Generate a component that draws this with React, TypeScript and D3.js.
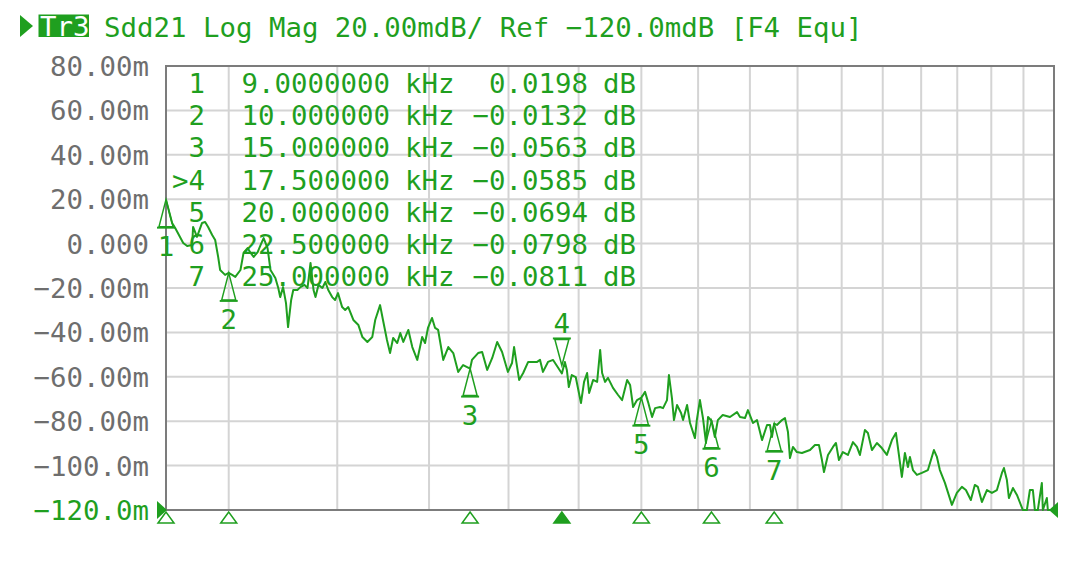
import * as d3 from "d3";

// Trazo Sdd21 (kHz, mdB)
const traceFreqKHz = [
  9.0, 9.093, 9.14, 9.264, 9.326, 9.404, 9.419, 9.481, 9.562, 9.611, 9.66, 9.726, 9.775, 9.824, 9.857, 9.939,
  10.0, 10.058, 10.111, 10.199, 10.252, 10.322, 10.375, 10.428, 10.498, 10.551, 10.604, 10.674, 10.727, 10.815,
  10.868, 10.903, 10.956, 11.01, 11.048, 11.106, 11.145, 11.222, 11.28, 11.357, 11.415, 11.473, 11.531, 11.569,
  11.627, 11.704, 11.762, 11.82, 11.898, 11.956, 12.015, 12.099, 12.161, 12.224, 12.329, 12.434, 12.518, 12.623,
  12.727, 12.79, 12.895, 12.958, 13.045, 13.113, 13.181, 13.272, 13.34, 13.408, 13.522, 13.612, 13.726, 13.839,
  13.907, 13.975, 14.071, 14.143, 14.216, 14.338, 14.46, 14.582, 14.703, 14.825, 15.0, 15.047, 15.203, 15.307,
  15.437, 15.568, 15.698, 15.828, 15.984, 16.094, 16.15, 16.233, 16.288, 16.399, 16.537, 16.787, 16.87, 16.953,
  17.097, 17.244, 17.5, 17.588, 17.647, 17.706, 17.794, 17.912, 18.071, 18.165, 18.258, 18.32, 18.444, 18.568,
  18.662, 18.724, 18.817, 18.91, 19.069, 19.233, 19.364, 19.528, 19.626, 19.725, 19.856, 20.0, 20.124, 20.227,
  20.364, 20.467, 20.639, 20.742, 20.88, 20.948, 21.054, 21.126, 21.235, 21.379, 21.451, 21.596, 21.704, 21.884,
  21.953, 22.068, 22.181, 22.294, 22.37, 22.5, 22.628, 22.741, 22.93, 23.209, 23.486, 23.605, 23.802, 23.921,
  24.123, 24.288, 24.494, 24.7, 24.823, 24.905, 25.0, 25.115, 25.329, 25.457, 25.585, 25.671, 25.799, 25.97,
  26.192, 26.549, 26.772, 26.951, 27.088, 27.18, 27.364, 27.595, 27.733, 27.871, 28.057, 28.297, 28.536, 28.727,
  28.871, 29.114, 29.262, 29.46, 29.708, 29.955, 30.21, 30.467, 30.672, 30.826, 30.979, 31.138, 31.296, 31.402,
  31.561, 31.773, 32.038, 32.366, 32.694, 32.858, 33.022, 33.303, 33.696, 33.977, 34.266, 34.497, 34.786, 35.018,
  35.198, 35.437, 35.737, 36.037, 36.343, 36.65, 36.773, 36.957, 37.082, 37.333, 37.585, 37.962, 38.219, 38.413,
  38.606, 38.735, 38.929, 39.192, 39.258, 39.523, 39.589, 39.788, 40.0,
];
const traceMdB = [
  19.8, 9.3, 7.0, 0.3, -1.1, -0.6, 7.5, 3.0, 9.3, 9.7, 7.5, 3.9, 1.6, -6.0, -11.9, -14.1,
  -13.2, -14.1, -15.0, -11.9, -4.2, -2.0, -4.2, -6.0, -3.8, -0.6, 2.5, -2.0, -11.9, -15.5,
  -20.0, -24.1, -19.6, -26.8, -37.6, -25.4, -20.9, -20.9, -19.6, -18.6, -20.0, -8.7, -20.9, -24.1,
  -18.6, -20.0, -17.3, -20.9, -24.1, -25.4, -22.3, -28.6, -29.9, -28.6, -34.4, -36.7, -42.1, -44.3,
  -42.1, -34.4, -27.7, -34.4, -43.4, -49.3, -42.5, -44.8, -40.3, -44.3, -38.9, -46.6, -52.4, -42.1,
  -44.8, -38.0, -33.5, -38.0, -38.9, -52.4, -46.6, -49.3, -57.8, -54.7, -56.3, -52.4, -49.3, -48.8,
  -56.9, -51.5, -44.3, -48.8, -57.8, -53.8, -46.6, -55.6, -61.4, -58.3, -53.3, -53.3, -52.4, -57.8,
  -53.3, -52.4, -58.5, -53.3, -56.9, -64.6, -59.2, -60.1, -71.8, -62.3, -58.3, -67.3, -61.4, -62.3,
  -47.9, -58.3, -62.3, -60.5, -65.0, -68.2, -70.5, -61.4, -63.7, -73.6, -70.5, -69.4, -66.8, -71.4,
  -78.1, -74.1, -73.6, -74.1, -70.5, -59.2, -69.6, -79.5, -72.7, -76.3, -79.5, -72.7, -80.8, -87.6,
  -79.5, -70.5, -78.6, -89.8, -78.1, -79.8, -87.1, -79.5, -77.2, -78.1, -75.9, -78.1, -78.6, -75.0,
  -80.8, -79.5, -88.5, -81.7, -81.7, -87.1, -81.1, -81.7, -79.5, -78.6, -84.9, -96.6, -91.6, -93.9,
  -94.3, -93.0, -90.7, -90.7, -97.5, -102.9, -95.2, -91.6, -89.8, -97.5, -93.9, -95.2, -89.4, -91.6,
  -95.2, -84.0, -85.3, -93.0, -89.8, -92.1, -95.2, -88.5, -85.3, -95.2, -105.1, -94.3, -100.6, -96.1,
  -102.0, -104.2, -103.3, -102.0, -93.0, -96.1, -102.0, -107.8, -117.7, -112.3, -109.6, -111.0, -115.5, -108.7,
  -109.6, -116.4, -111.0, -112.3, -111.0, -103.3, -101.1, -106.5, -114.6, -110.1, -113.2, -121.0, -122.0, -111.0,
  -111.0, -121.0, -123.0, -107.8, -121.0, -114.6, -122.0, -120.5, -121.0,
];

const markerLabels = ["1", "2", "3", ">4", "5", "6", "7"];
const markerNumbers = ["1", "2", "3", "4", "5", "6", "7"];
const markerFreqKHz = [9, 10, 15, 17.5, 20, 22.5, 25];
const markerDb = [0.0198, -0.0132, -0.0563, -0.0585, -0.0694, -0.0798, -0.0811];
const activeMarker = 3;

const yTickValues = [80, 60, 40, 20, 0, -20, -40, -60, -80, -100, -120];
const yTickLabels = [
  "80.00m", "60.00m", "40.00m", "20.00m", "0.000", "−20.00m",
  "−40.00m", "−60.00m", "−80.00m", "−100.0m", "−120.0m",
];
const gridFreqKHz = [10, 12, 14, 16, 18, 20, 22, 24, 26, 28, 30, 32, 34, 36, 38];
const headerText = "Sdd21 Log Mag 20.00mdB/ Ref −120.0mdB [F4 Equ]";

const ANCHO = 1091;
const ALTO = 563;
const VERDE = "#1f9f1f";
const GRIS = "#6e6e6e";
const MONO = "'DejaVu Sans Mono', monospace";
const FS = 27.4;

const fmtFreq = (f: number) => (f < 10 ? f.toFixed(7) : f.toFixed(6));
const fmtDb = (v: number) => (v < 0 ? "−" + Math.abs(v).toFixed(4) : v.toFixed(4));

export default function App() {
  const m = { left: 166, right: 1054, top: 66, bottom: 510 };
  const x = d3.scaleLog().domain([9, 40]).range([m.left, m.right]);
  const y = d3.scaleLinear().domain([-120, 80]).range([m.bottom, m.top]).clamp(true);

  const puntos = traceFreqKHz.map((f, i) => [f, traceMdB[i]] as [number, number]);
  const linea = d3
    .line<[number, number]>()
    .x((d) => x(d[0]))
    .y((d) => y(d[1]));

  const filaY = (i: number) => 93 + i * 32.2;

  return (
    <svg
      width={ANCHO}
      height={ALTO}
      viewBox={`0 0 ${ANCHO} ${ALTO}`}
      style={{ position: "absolute", left: 0, top: 0, background: "#fff" }}
      fontFamily={MONO}
    >
      <rect x={0} y={0} width={ANCHO} height={ALTO} fill="#fff" />

      {/* Cabecera */}
      <polygon points="20,15 33,26 20,37" fill={VERDE} />
      <rect x={38.5} y={14.5} width={50.5} height={22.5} fill={VERDE} />
      <text x={40} y={36} fontSize={FS} fill="#fff">Tr3</text>
      <text x={104} y={37} fontSize={FS} fill={VERDE} style={{ whiteSpace: "pre" }}>
        {headerText}
      </text>

      {/* Rejilla */}
      {yTickValues.map((v) => (
        <line key={"h" + v} x1={m.left} x2={m.right} y1={y(v)} y2={y(v)} stroke="#d4d4d4" strokeWidth={2} />
      ))}
      {gridFreqKHz.map((f) => (
        <line key={"v" + f} x1={x(f)} x2={x(f)} y1={m.top} y2={m.bottom} stroke="#d4d4d4" strokeWidth={2} />
      ))}
      <rect
        x={m.left}
        y={m.top}
        width={m.right - m.left}
        height={m.bottom - m.top}
        fill="none"
        stroke="#7c7c7c"
        strokeWidth={2}
      />

      {/* Eje Y */}
      {yTickValues.map((v, i) => (
        <text
          key={"yl" + v}
          x={149}
          y={y(v) + 10}
          textAnchor="end"
          fontSize={FS}
          fill={v === -120 ? VERDE : GRIS}
        >
          {yTickLabels[i]}
        </text>
      ))}

      {/* Tabla de marcadores */}
      {markerLabels.map((lab, i) => (
        <g key={"row" + i} fontSize={FS} fill={VERDE}>
          <text x={205} y={filaY(i)} textAnchor="end">{lab}</text>
          <text x={390} y={filaY(i)} textAnchor="end">{fmtFreq(markerFreqKHz[i])}</text>
          <text x={405} y={filaY(i)}>kHz</text>
          <text x={588} y={filaY(i)} textAnchor="end">{fmtDb(markerDb[i])}</text>
          <text x={603} y={filaY(i)}>dB</text>
        </g>
      ))}

      {/* Traza */}
      <path d={linea(puntos) || ""} fill="none" stroke={VERDE} strokeWidth={2} strokeLinejoin="round" />

      {/* Marcadores sobre la traza */}
      {markerFreqKHz.map((f, i) => {
        const px = x(f);
        const py = y(markerDb[i] * 1000);
        if (i === activeMarker) {
          const ap = py - 8;
          return (
            <g key={"mk" + i} stroke={VERDE} fill="none" strokeWidth={1.5}>
              <polygon points={`${px},${ap} ${px - 7},${ap - 26} ${px + 7},${ap - 26}`} />
              <line x1={px - 9} x2={px + 9} y1={ap - 27} y2={ap - 27} strokeWidth={2} />
              <text x={px} y={ap - 32} textAnchor="middle" fontSize={FS} fill={VERDE} stroke="none">
                {markerNumbers[i]}
              </text>
            </g>
          );
        }
        return (
          <g key={"mk" + i} stroke={VERDE} fill="none" strokeWidth={1.5}>
            <polygon points={`${px},${py} ${px - 7},${py + 27} ${px + 7},${py + 27}`} />
            <line x1={px - 9} x2={px + 9} y1={py + 28} y2={py + 28} strokeWidth={2} />
            <text x={px} y={py + 56} textAnchor="middle" fontSize={FS} fill={VERDE} stroke="none">
              {markerNumbers[i]}
            </text>
          </g>
        );
      })}

      {/* Marcadores en el eje inferior */}
      {markerFreqKHz.map((f, i) => {
        const px = x(f);
        return (
          <polygon
            key={"bm" + i}
            points={`${px},${m.bottom + 2} ${px - 8},${m.bottom + 13} ${px + 8},${m.bottom + 13}`}
            fill={i === activeMarker ? VERDE : "#fff"}
            stroke={VERDE}
            strokeWidth={1.5}
          />
        );
      })}

      {/* Nivel de referencia y extremo de la traza */}
      <polygon
        points={`${m.left - 9},${y(-120) - 9} ${m.left + 1},${y(-120)} ${m.left - 9},${y(-120) + 9}`}
        fill={VERDE}
      />
      <polygon
        points={`${x(40) + 4},${y(-120) - 8} ${x(40) - 5},${y(-120)} ${x(40) + 4},${y(-120) + 8}`}
        fill={VERDE}
      />
    </svg>
  );
}
